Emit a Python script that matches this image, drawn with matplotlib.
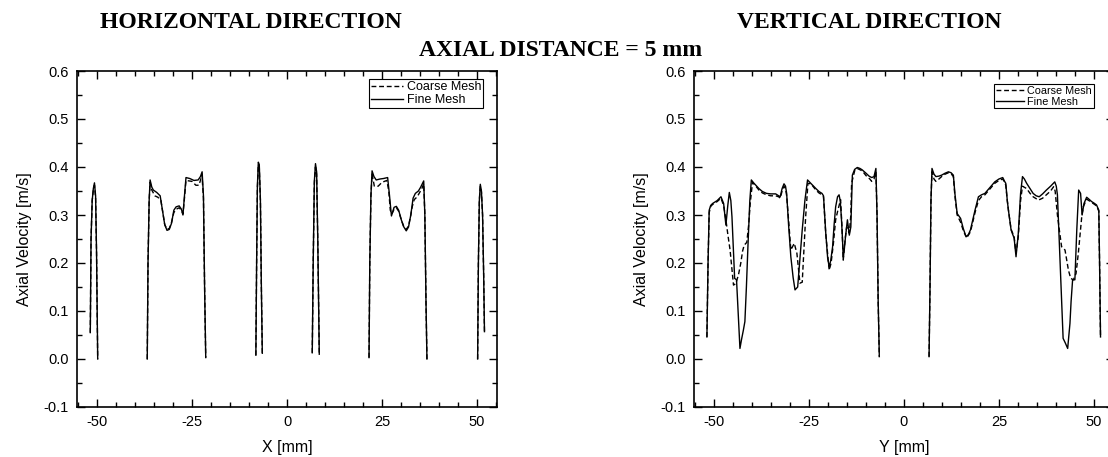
import numpy as np
import matplotlib
matplotlib.use("Agg")
import matplotlib.pyplot as plt

nan = np.nan

# ---------------- Horizontal direction ----------------
hx_fine = [-51.8, -51.6, -51.3, -51.0, -50.7, -50.4, -50.15, -49.85, nan,
           -36.8, -36.6, -36.3, -36.05, -35.6, -35.2, -34.3, -33.4, -32.8, -32.2, -31.6, -31.0,
           -30.4, -29.8, -29.2, -28.4, -27.8, -27.4, -27.0, -26.6, -25.6, -24.5, -23.4, -22.8,
           -22.35, -22.0, -21.7, -21.4, nan,
           -8.2, -8.0, -7.8, -7.55, -7.3, -7.0, -6.75, -6.5, nan,
           6.65, 6.9, 7.2, 7.5, 7.8, 8.1, 8.5, nan,
           21.6, 21.8, 22.1, 22.4, 22.9, 23.5, 24.5, 25.4, 26.5, 27.0, 27.5, 28.2, 28.8, 29.4,
           30.1, 30.7, 31.4, 32.0, 32.6, 33.2, 33.8, 34.6, 35.2, 36.0, 36.3, 36.6, 36.85, nan,
           50.2, 50.4, 50.65, 50.9, 51.2, 51.5, 51.8, 52.0]
hv_fine = [0.055, 0.25, 0.33, 0.355, 0.367, 0.34, 0.22, 0.0, nan,
           0.0, 0.2, 0.33, 0.373, 0.358, 0.352, 0.347, 0.34, 0.31, 0.28, 0.268, 0.27,
           0.283, 0.31, 0.317, 0.319, 0.312, 0.300, 0.34, 0.378, 0.376, 0.372, 0.373, 0.38,
           0.39, 0.34, 0.15, 0.003, nan,
           0.008, 0.2, 0.36, 0.41, 0.405, 0.33, 0.15, 0.012, nan,
           0.013, 0.2, 0.37, 0.407, 0.39, 0.25, 0.01, nan,
           0.003, 0.2, 0.34, 0.392, 0.38, 0.373, 0.375, 0.376, 0.378, 0.34, 0.298, 0.316, 0.318, 0.31,
           0.29, 0.276, 0.267, 0.275, 0.3, 0.335, 0.345, 0.35, 0.358, 0.371, 0.3, 0.12, 0.0, nan,
           0.0, 0.2, 0.33, 0.364, 0.35, 0.3, 0.17, 0.057]

hx_coarse = [-51.8, -51.6, -51.3, -51.0, -50.7, -50.4, -50.15, -49.85, nan,
             -36.8, -36.6, -36.3, -36.05, -35.6, -34.8, -34.0, -33.2, -32.7, -32.2, -31.6, -31.0,
             -30.4, -29.8, -29.2, -28.4, -27.8, -27.4, -27.0, -26.6, -25.0, -24.0, -23.2, -22.8,
             -22.4, -22.0, -21.7, -21.4, nan,
             -8.2, -8.0, -7.8, -7.55, -7.3, -7.0, -6.75, -6.5, nan,
             6.65, 6.9, 7.2, 7.5, 7.8, 8.1, 8.5, nan,
             21.6, 21.8, 22.1, 22.4, 23.0, 24.0, 25.0, 26.3, 26.8, 27.2, 27.6, 28.2, 28.8, 29.4,
             30.1, 30.7, 31.4, 32.0, 32.6, 33.0, 33.5, 34.3, 35.5, 36.0, 36.3, 36.6, 36.85, nan,
             50.2, 50.4, 50.65, 50.9, 51.2, 51.5, 51.8, 52.0]
hv_coarse = [0.055, 0.25, 0.33, 0.352, 0.362, 0.335, 0.22, 0.0, nan,
             0.0, 0.2, 0.33, 0.368, 0.352, 0.340, 0.337, 0.33, 0.305, 0.28, 0.27, 0.272,
             0.285, 0.305, 0.312, 0.315, 0.31, 0.302, 0.335, 0.372, 0.370, 0.362, 0.362, 0.372,
             0.385, 0.335, 0.15, 0.003, nan,
             0.008, 0.2, 0.355, 0.405, 0.40, 0.33, 0.15, 0.012, nan,
             0.013, 0.2, 0.365, 0.40, 0.385, 0.25, 0.01, nan,
             0.003, 0.2, 0.34, 0.385, 0.36, 0.36, 0.368, 0.372, 0.35, 0.31, 0.302, 0.312, 0.315, 0.308,
             0.29, 0.277, 0.27, 0.277, 0.3, 0.318, 0.332, 0.338, 0.355, 0.365, 0.3, 0.12, 0.0, nan,
             0.0, 0.2, 0.33, 0.36, 0.348, 0.3, 0.17, 0.057]

# ---------------- Vertical direction ----------------
vx_fine = [-51.9, -51.6, -51.3, -50.9, -50.4, -49.2, -48.2, -47.5, -46.9, -46.4, -46.0, -45.6,
           -45.3, -44.9, -44.6, -44.1, -43.7, -43.2, -42.8, -42.3, -41.9, -41.5, -41.1, -40.6,
           -40.2, -39.6, -39.0, -38.2, -37.3, -36.2, -35.1, -33.8, -33.0, -32.6, -32.1, -31.6,
           -31.2, -30.9, -30.4, -29.8, -29.2, -28.7, -28.0, -27.5, -26.8, -26.1, -25.4, -24.8,
           -24.1, -23.2, -22.4, -21.6, -21.2, -20.9, -20.6, -20.1, -19.7, -19.3, -18.8, -18.4,
           -18.0, -17.5, -17.1, -16.8, -16.5, -16.2, -16.0, -15.7, -15.4, -14.9, -14.6, -14.4,
           -14.0, -13.6, -13.0, -12.3, -11.6, -11.0, -10.0, -9.2, -8.5, -7.9, -7.4, -7.1, -6.8,
           -6.5, nan,
           6.6, 6.85, 7.1, 7.37, 7.9, 8.4, 9.2, 9.9, 10.8, 11.7, 12.4, 13.0, 13.4, 14.0, 14.9,
           15.6, 16.2, 16.5, 17.0, 17.5, 18.1, 18.7, 19.6, 20.4, 21.3, 22.6, 23.9, 25.0, 26.0,
           26.5, 26.8, 27.2, 27.5, 28.2, 28.6, 29.0, 29.5, 30.1, 30.7, 31.2, 31.7, 32.3, 33.2,
           34.0, 34.8, 35.6, 36.5, 37.5, 38.6, 39.7, 40.1, 40.4, 40.9, 41.5, 41.9, 42.5, 43.1,
           43.7, 44.0, 44.4, 45.0, 45.5, 46.0, 46.5, 46.9, 47.4, 48.1, 48.7, 49.4, 50.0, 50.7,
           51.3, 51.5, 51.75]
vv_fine = [0.046, 0.2, 0.31, 0.32, 0.324, 0.33, 0.338, 0.324, 0.279, 0.32, 0.347, 0.33,
           0.296, 0.22, 0.168, 0.165, 0.1, 0.022, 0.04, 0.06, 0.078, 0.15, 0.234, 0.33,
           0.373, 0.367, 0.362, 0.355, 0.349, 0.345, 0.344, 0.344, 0.34, 0.338, 0.355, 0.365,
           0.36, 0.345, 0.28, 0.213, 0.17, 0.144, 0.15, 0.2, 0.269, 0.33, 0.373, 0.368,
           0.362, 0.355, 0.349, 0.345, 0.34, 0.3, 0.262, 0.21, 0.192, 0.205, 0.234, 0.28,
           0.317, 0.338, 0.342, 0.33, 0.296, 0.25, 0.21, 0.23, 0.255, 0.29, 0.27, 0.258,
           0.275, 0.383, 0.395, 0.399, 0.397, 0.394, 0.387, 0.381, 0.378, 0.38, 0.397, 0.3, 0.12,
           0.005, nan,
           0.005, 0.15, 0.33, 0.397, 0.385, 0.38, 0.381, 0.383, 0.387, 0.39, 0.388, 0.383, 0.345, 0.303, 0.293,
           0.272, 0.258, 0.255, 0.26, 0.269, 0.29, 0.31, 0.338, 0.342, 0.345, 0.357, 0.369, 0.375, 0.378,
           0.37, 0.366, 0.33, 0.31, 0.269, 0.26, 0.252, 0.213, 0.262, 0.345, 0.38, 0.375, 0.366, 0.355,
           0.345, 0.34, 0.338, 0.344, 0.352, 0.36, 0.369, 0.36, 0.342, 0.241, 0.123, 0.043, 0.033, 0.022,
           0.074, 0.12, 0.165, 0.165, 0.269, 0.352, 0.345, 0.30, 0.324, 0.337, 0.333, 0.328, 0.325, 0.321,
           0.31, 0.2, 0.046]

vx_coarse = [-51.9, -51.6, -51.3, -50.9, -50.4, -49.2, -48.2, -47.5, -46.9, -46.4, -45.8, -44.9,
             -44.3, -43.6, -43.0, -42.5, -42.1, -41.4, -40.9, -40.5, -39.9, -39.0, -38.2, -37.3,
             -36.2, -35.1, -33.8, -33.0, -32.6, -32.1, -31.6, -31.2, -30.9, -30.4, -29.8, -28.9,
             -28.2, -27.4, -26.8, -25.9, -25.3, -24.5, -23.2, -22.4, -21.6, -21.2, -20.6, -19.7,
             -19.2, -18.6, -18.0, -17.5, -16.7, -16.3, -16.0, -15.5, -15.1, -14.4, -14.0, -13.8,
             -13.0, -12.3, -11.0, -10.0, -9.0, -8.5, -7.9, -7.4, -7.1, -6.8, -6.5, nan,
             6.6, 6.85, 7.1, 7.37, 7.9, 8.4, 9.2, 9.9, 10.8, 11.7, 12.4, 13.0, 13.4, 14.0, 14.9,
             15.6, 16.5, 17.5, 18.7, 19.6, 20.4, 21.3, 22.6, 23.9, 25.0, 26.0, 26.5, 26.8, 27.2,
             27.5, 28.2, 29.0, 29.5, 30.1, 30.7, 31.2, 32.3, 33.2, 34.0, 35.4, 36.5, 37.5, 38.6,
             39.4, 39.8, 40.4, 40.9, 41.5, 42.4, 43.3, 43.9, 44.6, 45.3, 45.9, 46.8, 47.2, 48.1,
             48.7, 49.4, 50.0, 50.7, 51.3, 51.5, 51.75]
vv_coarse = [0.046, 0.2, 0.305, 0.318, 0.322, 0.328, 0.335, 0.32, 0.29, 0.26, 0.227, 0.154,
             0.157, 0.175, 0.199, 0.225, 0.237, 0.243, 0.28, 0.324, 0.368, 0.36, 0.352, 0.346,
             0.342, 0.34, 0.34, 0.338, 0.335, 0.35, 0.36, 0.355, 0.34, 0.29, 0.227, 0.241,
             0.22, 0.158, 0.16, 0.296, 0.366, 0.365, 0.352, 0.346, 0.342, 0.338, 0.26, 0.185,
             0.2, 0.24, 0.29, 0.307, 0.332, 0.27, 0.206, 0.25, 0.275, 0.262, 0.3, 0.366,
             0.392, 0.397, 0.392, 0.382, 0.375, 0.37, 0.375, 0.39, 0.3, 0.12, 0.005, nan,
             0.005, 0.15, 0.33, 0.39, 0.375, 0.37, 0.375, 0.38, 0.385, 0.388, 0.386, 0.38, 0.34, 0.30, 0.285,
             0.268, 0.252, 0.265, 0.305, 0.33, 0.338, 0.342, 0.354, 0.366, 0.372, 0.375, 0.368, 0.362, 0.33,
             0.31, 0.27, 0.255, 0.22, 0.255, 0.33, 0.36, 0.355, 0.345, 0.338, 0.331, 0.335, 0.342, 0.35,
             0.359, 0.35, 0.3, 0.269, 0.234, 0.227, 0.185, 0.168, 0.165, 0.178, 0.22, 0.296, 0.317, 0.333,
             0.33, 0.326, 0.323, 0.319, 0.308, 0.2, 0.046]

xticks = [-50, -25, 0, 25, 50]
xtick_labels = ["-50", "-25", "0", "25", "50"]
yticks = [-0.1, 0.0, 0.1, 0.2, 0.3, 0.4, 0.5, 0.6]
ytick_labels = ["-0.1", "0.0", "0.1", "0.2", "0.3", "0.4", "0.5", "0.6"]

plt.rcParams['font.family'] = ['Liberation Sans', 'DejaVu Sans']

W, H = 1108, 457
fig = plt.figure(figsize=(W / 100, H / 100), dpi=100)

def px_axes(l, t, r, b):
    return [l / W, 1 - b / H, (r - l) / W, (b - t) / H]

ax1 = fig.add_axes(px_axes(77, 71, 497, 407))
ax2 = fig.add_axes(px_axes(694, 71, 1114, 407))

def style(ax, xlabel, legend_fs, anchor):
    ax.set_xlim(-55.3, 55.3)
    ax.set_ylim(-0.1, 0.6)
    ax.set_xticks(xticks)
    ax.set_xticklabels(xtick_labels)
    ax.set_yticks(yticks)
    ax.set_yticklabels(ytick_labels)
    ax.set_xticks(np.arange(-55, 56, 5), minor=True)
    ax.set_yticks(np.arange(-0.1, 0.61, 0.05), minor=True)
    ax.tick_params(which='both', direction='in', top=True, right=True, width=1.0, labelsize=10.5, pad=6)
    ax.tick_params(which='major', length=6)
    ax.tick_params(which='minor', length=3.5)
    for s in ax.spines.values():
        s.set_linewidth(1.2)
    ax.set_xlabel(xlabel, fontsize=11.5, labelpad=8)
    ax.set_ylabel("Axial Velocity [m/s]", fontsize=11.5, labelpad=8)
    leg = ax.legend(loc='upper right', bbox_to_anchor=anchor, fontsize=legend_fs,
                    frameon=True, fancybox=False, edgecolor='black', framealpha=1,
                    borderpad=0.15, labelspacing=0.05, handlelength=2.6, handletextpad=0.3,
                    borderaxespad=0.0)
    leg.get_frame().set_linewidth(0.8)

ax1.plot(hx_coarse, hv_coarse, color='black', lw=1.0, ls=(0, (3.5, 2)), label='Coarse Mesh')
ax1.plot(hx_fine, hv_fine, color='black', lw=1.0, ls='-', label='Fine Mesh')
style(ax1, "X [mm]", 9, (0.967, 0.975))

ax2.plot(vx_coarse, vv_coarse, color='black', lw=1.0, ls=(0, (3.5, 2)), label='Coarse Mesh')
ax2.plot(vx_fine, vv_fine, color='black', lw=1.0, ls='-', label='Fine Mesh')
style(ax2, "Y [mm]", 7.8, (0.952, 0.96))

tfont = dict(family=['Liberation Serif', 'DejaVu Serif'], fontweight='bold', fontsize=17)
fig.text(250.5 / W, 1 - 28 / H, "HORIZONTAL DIRECTION", ha='center', va='baseline', **tfont)
fig.text(869.5 / W, 1 - 28 / H, "VERTICAL DIRECTION", ha='center', va='baseline', **tfont)
fig.text(561 / W, 1 - 56 / H, "AXIAL DISTANCE = 5 mm", ha='center', va='baseline', **tfont)

fig.savefig("out.png", dpi=100)
